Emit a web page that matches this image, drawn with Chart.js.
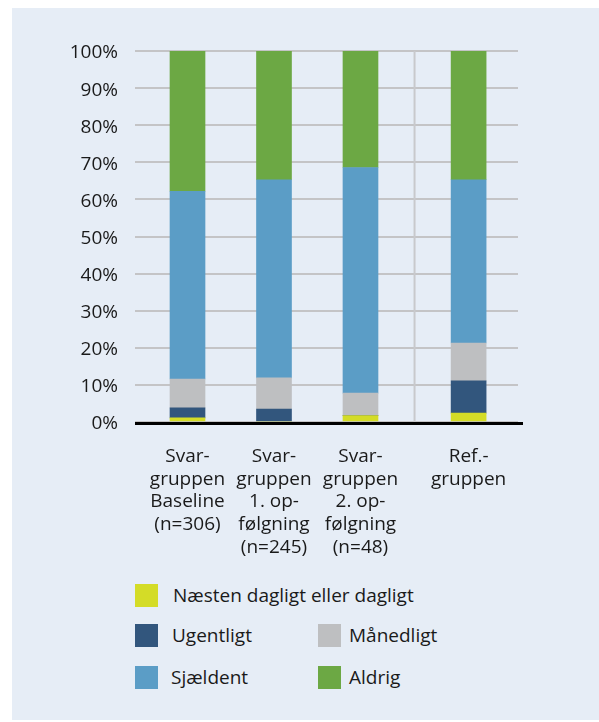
<!DOCTYPE html>
<html lang="da">
<head>
<meta charset="utf-8">
<script src="https://cdn.jsdelivr.net/npm/chart.js@4/dist/chart.umd.min.js"></script>
<style>
  body { margin: 0; background: #ffffff; font-family: "Open Sans", sans-serif; }
  #panel { position: absolute; left: 12px; top: 8px; width: 587px; height: 712px; background: #e6edf6; }
  #chart { position: absolute; left: 0; top: 0; }
  .item { position: absolute; height: 23px; line-height: 23px; font-size: 19px; color: #1a1a1a; white-space: nowrap; }
  .box { position: absolute; left: 0; top: 0; width: 23px; height: 23px; }
  .txt { position: absolute; top: 0; }
</style>
</head>
<body>
<div id="panel"></div>
<canvas id="chart" width="599" height="560"></canvas>
<div id="legend"></div>
<script>
// grupper og deres placering på x-aksen (referencegruppen står lidt for sig)
var groupLabels = [
    ['Svar-', 'gruppen', 'Baseline', '(n=306)'],
    ['Svar-', 'gruppen', '1. op-', 'følgning', '(n=245)'],
    ['Svar-', 'gruppen', '2. op-', 'følgning', '(n=48)'],
    ['Ref.-', 'gruppen']
];
var groupPos = [0, 1, 2, 3.25];

var seriesNames = ['Næsten dagligt eller dagligt', 'Ugentligt', 'Månedligt', 'Sjældent', 'Aldrig'];

// andele i procent
var naestenDagligt = [1.1, 0, 1.7, 2.4];
var ugentligt = [2.7, 3.5, 0, 8.7];
var maanedligt = [7.8, 8.4, 6.1, 10.2];
var sjaeldent = [50.6, 53.4, 60.8, 44.0];
var aldrig = [37.8, 34.7, 31.4, 34.7];

var seriesValues = [naestenDagligt, ugentligt, maanedligt, sjaeldent, aldrig];
var seriesColors = ['#d4dc27', '#32567d', '#bebfc1', '#5b9dc6', '#6ca844'];

var datasets = [];
for (var s = 0; s < seriesNames.length; s++) {
    var points = [];
    for (var g = 0; g < groupPos.length; g++) {
        points.push({ x: groupPos[g], y: seriesValues[s][g] });
    }
    datasets.push({
        label: seriesNames[s],
        data: points,
        backgroundColor: seriesColors[s],
        borderWidth: 0,
        barThickness: 35
    });
}

// lodret skillelinje mellem svargrupper og referencegruppe + sort nullinje
var extraLines = {
    id: 'extraLines',
    beforeDatasetsDraw: function(chart) {
        var ctx = chart.ctx;
        var x = chart.scales.x.getPixelForValue((groupPos[2] + groupPos[3]) / 2);
        ctx.save();
        ctx.strokeStyle = '#c8c9cc';
        ctx.lineWidth = 2;
        ctx.beginPath();
        ctx.moveTo(x, chart.chartArea.top);
        ctx.lineTo(x, chart.chartArea.bottom);
        ctx.stroke();
        ctx.restore();
    },
    afterDatasetsDraw: function(chart) {
        var ctx = chart.ctx;
        var a = chart.chartArea;
        ctx.save();
        ctx.strokeStyle = '#000000';
        ctx.lineWidth = 3;
        ctx.beginPath();
        ctx.moveTo(a.left, a.bottom + 1.5);
        ctx.lineTo(a.right + 5, a.bottom + 1.5);
        ctx.stroke();
        ctx.restore();
    }
};

var font = { family: '"Open Sans", sans-serif', size: 19, lineHeight: 1.2 };

var ctx = document.getElementById('chart').getContext('2d');
var chart = new Chart(ctx, {
    type: 'bar',
    data: { datasets: datasets },
    options: {
        responsive: false,
        animation: false,
        layout: { padding: { top: 51, right: 81, left: 0, bottom: 0 } },
        scales: {
            x: {
                type: 'linear',
                stacked: true,
                offset: false,
                min: -0.607,
                max: 3.821,
                grid: { display: false },
                border: { display: false },
                afterBuildTicks: function(scale) {
                    scale.ticks = groupPos.map(function(v) { return { value: v }; });
                },
                afterFit: function(scale) { scale.height = 560 - 51 - 371; },
                ticks: {
                    autoSkip: false,
                    maxRotation: 0,
                    padding: 15,
                    color: '#1a1a1a',
                    font: font,
                    callback: function(value, index) { return groupLabels[index]; }
                }
            },
            y: {
                stacked: true,
                min: 0,
                max: 100,
                grid: { color: '#c4c4c6', lineWidth: 2, drawTicks: false },
                border: { display: false },
                afterFit: function(scale) { scale.width = 135; },
                ticks: {
                    stepSize: 10,
                    padding: 17,
                    labelOffset: 2,
                    color: '#1a1a1a',
                    font: font,
                    callback: function(v) { return v + '%'; }
                }
            }
        },
        plugins: {
            legend: { display: false },
            tooltip: { enabled: false }
        }
    },
    plugins: [extraLines]
});

// forklaring: første række alene, derefter to kolonner
var legendSlots = [
    { box: 135, text: 173, top: 584 },
    { box: 135, text: 172, top: 624 },
    { box: 318, text: 349, top: 624 },
    { box: 135, text: 171, top: 666 },
    { box: 318, text: 349, top: 666 }
];
var legend = document.getElementById('legend');
for (var i = 0; i < seriesNames.length; i++) {
    var slot = legendSlots[i];
    var item = document.createElement('div');
    item.className = 'item';
    item.style.left = slot.box + 'px';
    item.style.top = slot.top + 'px';
    var box = document.createElement('span');
    box.className = 'box';
    box.style.background = seriesColors[i];
    var txt = document.createElement('span');
    txt.className = 'txt';
    txt.style.left = (slot.text - slot.box) + 'px';
    txt.textContent = seriesNames[i];
    item.appendChild(box);
    item.appendChild(txt);
    legend.appendChild(item);
}
</script>
</body>
</html>
